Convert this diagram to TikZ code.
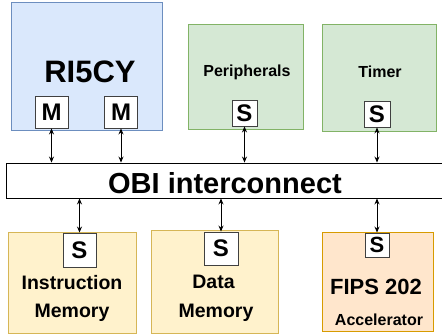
\documentclass[tikz,border=0pt]{standalone}
\usepackage{fontspec}
\setmainfont{Liberation Sans}
\usepackage{tikz}
\definecolor{coreblue}{HTML}{DAE8FC}
\definecolor{corebluedark}{HTML}{6C8EBF}
\definecolor{periphgreen}{HTML}{D5E8D4}
\definecolor{periphgreendark}{HTML}{82B366}
\definecolor{memyellow}{HTML}{FFF2CC}
\definecolor{memyellowdark}{HTML}{D6B656}
\definecolor{accorange}{HTML}{FFE6CC}
\definecolor{accorangedark}{HTML}{D79B00}
\usetikzlibrary{arrows.meta, positioning}

\tikzset{
    unit/.style={draw=#1dark, fill=#1, line width=0.9pt, inner sep=0pt},
    port/.style={draw=black!75, fill=white, line width=0.9pt, inner sep=0pt,
                 font=\bfseries\fontsize{24}{24}\selectfont},
    lbl/.style={inner sep=0pt, font=\bfseries\fontsize{#1}{#1}\selectfont},
    link/.style={{Stealth[length=6pt,width=5pt]}-{Stealth[length=6pt,width=5pt]}, line width=0.8pt}
}

\begin{document}
\begin{tikzpicture}[x=1pt, y=-1pt]
    \useasboundingbox (0,0) rectangle (442,336);

    % top row: core and slaves
    \node[unit=coreblue, minimum width=151pt, minimum height=128pt] (core) at (86.5,66) {};
    \node[unit=periphgreen, minimum width=115pt, minimum height=105pt] (periph) at (245.5,76.5) {};
    \node[unit=periphgreen, minimum width=114pt, minimum height=107pt] (timer) at (379,77.5) {};

    \node[lbl=31] (corename) at (90,72) {RI5CY};
    \node[lbl=16] (periphname) at (247,72) {Peripherals};
    \node[lbl=16] (timername) at (380,72) {Timer};

    \node[port, minimum width=33pt, minimum height=32pt] (m1) at (51.5,112) {M};
    \node[port, minimum width=33pt, minimum height=32pt] (m2) at (121,112) {M};
    \node[port, minimum width=25pt, minimum height=26pt] (speriph) at (244.5,113) {S};
    \node[port, minimum width=26pt, minimum height=26pt] (stimer) at (377,114) {S};

    % bus
    \node[draw, fill=white, line width=0.9pt, minimum width=439pt, minimum height=35pt,
          lbl=29] (bus) at (225.5,180.5) {};
    \node[lbl=29] (busname) at (225,183) {OBI interconnect};

    % bottom row: memories and accelerator
    \node[unit=memyellow, minimum width=128pt, minimum height=101pt] (imem) at (72,282.5) {};
    \node[unit=memyellow, minimum width=127pt, minimum height=103pt] (dmem) at (214.5,281.5) {};
    \node[unit=accorange, minimum width=111pt, minimum height=99pt] (fips) at (377.5,281.5) {};

    \node[port, minimum width=33pt, minimum height=34pt] (simem) at (79.5,250) {S};
    \node[port, minimum width=34pt, minimum height=33pt] (sdmem) at (221,248.5) {S};
    \node[port, minimum width=24pt, minimum height=24pt, font=\bfseries\fontsize{22}{22}\selectfont] (sfips) at (377,245) {S};

    \node[lbl=19.5] (imem1) at (72,283) {Instruction};
    \node[lbl=19.5] (imem2) at (72,313) {Memory};
    \node[lbl=19.5] (dmem1) at (213.5,282) {Data};
    \node[lbl=19.5] (dmem2) at (216,313) {Memory};
    \node[lbl=22] (fips1) at (376,287) {FIPS 202};
    \node[lbl=16] (fips2) at (379,320) {Accelerator};

    % links
    \draw[link] (m1.south) -- (m1.south |- bus.north);
    \draw[link] (m2.south) -- (m2.south |- bus.north);
    \draw[link] (speriph.south) -- (speriph.south |- bus.north);
    \draw[link] (stimer.south) -- (stimer.south |- bus.north);
    \draw[link] (simem.north |- bus.south) -- (simem.north);
    \draw[link] (sdmem.north |- bus.south) -- (sdmem.north);
    \draw[link] (sfips.north |- bus.south) -- (sfips.north);
\end{tikzpicture}
\end{document}
